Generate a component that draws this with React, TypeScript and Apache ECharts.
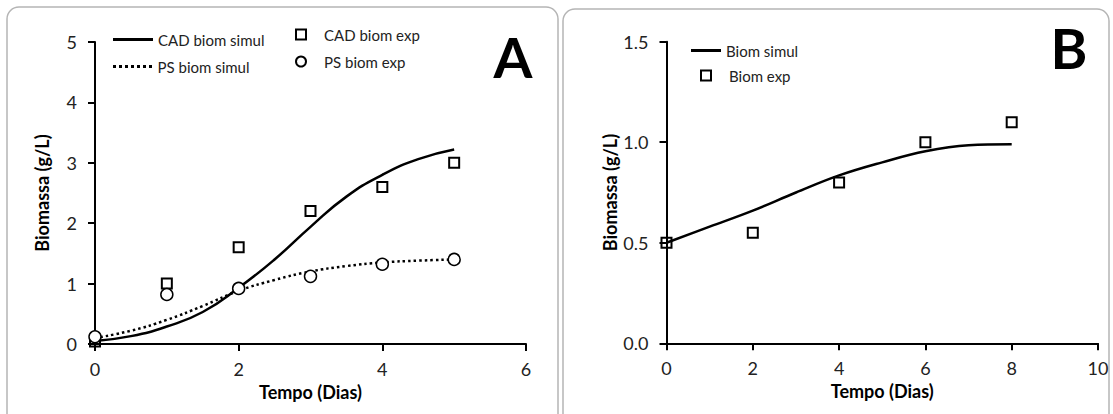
import React, { useEffect, useRef } from "react";
import * as echarts from "echarts";

// Panel A
const xSimA = [0, 0.5, 1, 1.5, 2, 2.5, 3, 3.5, 4, 4.5, 5];
const cadSimul = [0.05, 0.13, 0.29, 0.53, 0.93, 1.4, 1.94, 2.44, 2.8, 3.06, 3.22];
const psSimul = [0.1, 0.22, 0.4, 0.63, 0.88, 1.06, 1.2, 1.29, 1.35, 1.38, 1.4];
const xExpA = [0, 1, 2, 3, 4, 5];
const cadExp = [0.04, 1.0, 1.6, 2.2, 2.6, 3.0];
const psExp = [0.12, 0.82, 0.92, 1.12, 1.32, 1.4];

// Panel B
const xSimB = [0, 1, 2, 3, 4, 5, 6, 7, 8];
const biomSimul = [0.5, 0.58, 0.66, 0.75, 0.835, 0.9, 0.955, 0.985, 0.99];
const xExpB = [0, 2, 4, 6, 8];
const biomExp = [0.5, 0.55, 0.8, 1.0, 1.1];

const FONT = "Lato";
const zip = (xs: number[], ys: number[]) => xs.map((x, i) => [x, ys[i]]);

export default function App() {
  const ref = useRef<HTMLDivElement>(null);
  useEffect(() => {
    if (!ref.current) return;
    const chart = echarts.init(ref.current, undefined, { renderer: "svg" });
    const axisLine = { show: true, onZero: false, lineStyle: { color: "#000", width: 2 } };
    const tickOut = { show: true, inside: false, length: 7, lineStyle: { color: "#000", width: 2 } };
    const labelStyle = { color: "#222", fontSize: 18, fontFamily: FONT };
    const nameStyle = { color: "#000", fontSize: 18, fontWeight: "bold" as const, fontFamily: FONT };

    const mkX = (grid: number, min: number, max: number, interval: number) => ({
      type: "value", gridIndex: grid, position: "bottom", min, max, interval,
      splitLine: { show: false }, axisLine, axisTick: tickOut,
      axisLabel: { ...labelStyle, margin: 16 },
      name: "Tempo (Dias)", nameLocation: "middle", nameGap: 37, nameTextStyle: nameStyle,
    });
    const mkY = (grid: number, min: number, max: number, interval: number, fmt?: (v: number) => string) => ({
      type: "value", gridIndex: grid, position: "left", min, max, interval,
      splitLine: { show: false }, axisLine, axisTick: tickOut,
      axisLabel: { ...labelStyle, margin: 18, formatter: fmt },
      name: "Biomassa (g/L)", nameLocation: "middle", nameGap: 44, nameTextStyle: nameStyle,
    });

    const legText = { color: "#222", fontSize: 15, fontFamily: FONT };
    const legBase = { orient: "horizontal", padding: 0, textStyle: legText, selectedMode: false };
    const solidIcon = "path://M0,0h40v3h-40z";
    const dotIcon = "path://M0,0h3v3h-3zM6,0h3v3h-3zM12,0h3v3h-3zM18,0h3v3h-3zM24,0h3v3h-3zM30,0h3v3h-3zM36,0h3v3h-3z";
    const lineLeg = { ...legBase, itemWidth: 40, itemHeight: 3, itemStyle: { color: "#000", borderWidth: 0 } };
    const symLeg = { ...legBase, itemWidth: 10, itemHeight: 10, textStyle: { ...legText, padding: [0, 0, 0, 13] } };

    chart.setOption({
      animation: false,
      backgroundColor: "#fff",
      grid: [
        { left: 95, top: 42, width: 431, height: 302 },
        { left: 666.5, top: 41.7, width: 431.5, height: 301.6 },
      ],
      xAxis: [mkX(0, 0, 6, 2), mkX(1, 0, 10, 2)],
      yAxis: [mkY(0, 0, 5, 1), mkY(1, 0, 1.5, 0.5, (v: number) => v.toFixed(1))],
      legend: [
        { ...lineLeg, data: [{ name: "CAD biom simul", icon: solidIcon }], left: 113, top: 32 },
        { ...lineLeg, data: [{ name: "PS biom simul", icon: dotIcon }], left: 113, top: 59 },
        { ...symLeg, data: ["CAD biom exp"], left: 295, top: 27 },
        { ...symLeg, data: ["PS biom exp"], left: 295, top: 54 },
        { ...lineLeg, itemWidth: 30, data: [{ name: "Biom simul", icon: "path://M0,0h30v3h-30z" }], left: 691, top: 43 },
        { ...symLeg, data: ["Biom exp"], left: 700, top: 68 },
      ],
      graphic: [
        { type: "rect", shape: { x: 7, y: 7, width: 551, height: 430, r: 12 }, style: { fill: "none", stroke: "#b5b5b5", lineWidth: 1.5 }, z: -1 },
        { type: "rect", shape: { x: 563, y: 9, width: 546, height: 430, r: 12 }, style: { fill: "none", stroke: "#b5b5b5", lineWidth: 1.5 }, z: -1 },
        { type: "text", x: 513, y: 56, style: { text: "A", font: `bold 56px ${FONT}`, fill: "#000", align: "center", verticalAlign: "middle" } },
        { type: "text", x: 1069, y: 47, style: { text: "B", font: `bold 56px ${FONT}`, fill: "#000", align: "center", verticalAlign: "middle" } },
      ],
      series: [
        {
          name: "CAD biom simul", type: "line", xAxisIndex: 0, yAxisIndex: 0, data: zip(xSimA, cadSimul),
          smooth: true, symbol: "none", lineStyle: { color: "#000", width: 2.5 }, itemStyle: { color: "#000" }, z: 2,
        },
        {
          name: "PS biom simul", type: "line", xAxisIndex: 0, yAxisIndex: 0, data: zip(xSimA, psSimul),
          smooth: true, symbol: "none", lineStyle: { color: "#000", width: 2.5, type: [2.5, 3], cap: "butt" }, itemStyle: { color: "#000" }, z: 2,
        },
        {
          name: "CAD biom exp", type: "scatter", xAxisIndex: 0, yAxisIndex: 0, data: zip(xExpA, cadExp),
          symbol: "rect", symbolSize: 10, itemStyle: { color: "rgba(255,255,255,0)", borderColor: "#000", borderWidth: 2, opacity: 1 }, z: 3,
        },
        {
          name: "PS biom exp", type: "scatter", xAxisIndex: 0, yAxisIndex: 0, data: zip(xExpA, psExp),
          symbol: "circle", symbolSize: 12, itemStyle: { color: "#fff", borderColor: "#000", borderWidth: 1.5, opacity: 1 }, z: 4,
        },
        {
          name: "Biom simul", type: "line", xAxisIndex: 1, yAxisIndex: 1, data: zip(xSimB, biomSimul),
          smooth: 0.4, symbol: "none", lineStyle: { color: "#000", width: 2.5 }, itemStyle: { color: "#000" }, z: 2,
        },
        {
          name: "Biom exp", type: "scatter", xAxisIndex: 1, yAxisIndex: 1, data: zip(xExpB, biomExp),
          symbol: "rect", symbolSize: 10, itemStyle: { color: "rgba(255,255,255,0)", borderColor: "#000", borderWidth: 2, opacity: 1 }, z: 3,
        },
      ],
    });
    return () => chart.dispose();
  }, []);
  return <div ref={ref} style={{ position: "fixed", left: 0, top: 0, width: 1113, height: 414 }} />;
}
